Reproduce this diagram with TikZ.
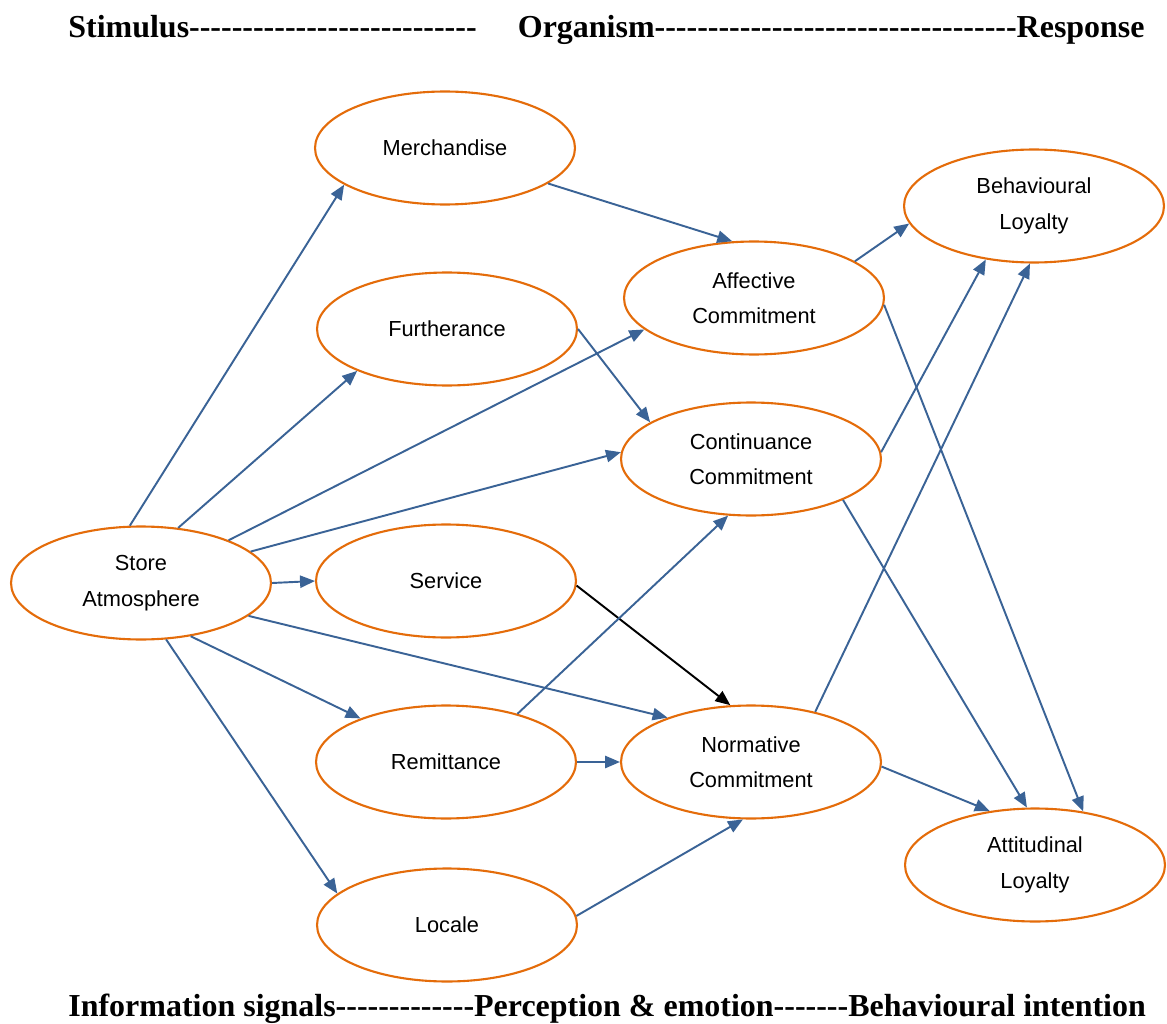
\documentclass[tikz,border=0pt]{standalone}
\usepackage{fontspec}
\newfontfamily\headfont{Liberation Serif}
\newfontfamily\labelfont{Liberation Sans}
\usetikzlibrary{shapes.geometric,arrows.meta}
\definecolor{ringorange}{RGB}{228,108,10}
\definecolor{linkblue}{RGB}{58,99,150}
% a run of separate hyphens (kept apart so no dash ligature forms)
\newcommand\dashrun[1]{\foreach\n in {1,...,#1}{-}}

\begin{document}
\begin{tikzpicture}[x=0.02cm,y=-0.02cm,
  construct/.style={ellipse, draw=ringorange, line width=1.2pt, fill=white,
    minimum width=5.2cm, minimum height=2.26cm, inner sep=0pt, align=center,
    font=\labelfont\fontsize{12.4}{20.2}\selectfont},
  link/.style={draw=linkblue, line width=1.1pt, -{Triangle[length=8.5pt,width=7pt]}},
  darklink/.style={link, draw=black},
  heading/.style={font=\headfont\bfseries\fontsize{18.2}{22}\selectfont, inner sep=0pt}]
\useasboundingbox (0,0) rectangle (1167,1024);

% stage headings
\node[heading, anchor=base west] (stim) at (68,38) {Stimulus\dashrun{27}};
\node[heading, anchor=base east] (orgresp) at (1145,38) {Organism\dashrun{34}Response};
\node[heading, anchor=base west] (stages) at (68,1016)
  {Information signals\dashrun{13}Perception \& emotion\dashrun{7}Behavioural intention};

% constructs
\node[construct] (store)  at (141,583)  {Store\\Atmosphere};
\node[construct] (merch)  at (445,148)  {Merchandise};
\node[construct] (furth)  at (447,329)  {Furtherance};
\node[construct] (serv)   at (446,581)  {Service};
\node[construct] (remit)  at (446,762)  {Remittance};
\node[construct] (locale) at (447,925)  {Locale};
\node[construct] (affect) at (754,298)  {Affective\\Commitment};
\node[construct] (contin) at (751,459)  {Continuance\\Commitment};
\node[construct] (norm)   at (751,762)  {Normative\\Commitment};
\node[construct] (behav)  at (1034,206) {Behavioural\\Loyalty};
\node[construct] (attit)  at (1035,865) {Attitudinal\\Loyalty};

% paths from the store atmosphere
\draw[link] (store.101) -- (merch.200);
\draw[link] (store.56)  -- (furth.205);
\draw[link] (store.26)  -- (affect.196);
\draw[link] (store.16)  -- (contin.177);
\draw[link] (store.0)   -- (serv.180);
\draw[link] (store.-17) -- (norm.152);
\draw[link] (store.-47) -- (remit.153);
\draw[link] (store.-66) -- (locale.164);

% stimulus dimensions to commitment
\draw[link] (merch.-19) -- (affect.111);
\draw[link] (furth.0)   -- (contin.160);
\draw[darklink] (serv.-2) -- (norm.110);
\draw[link] (remit.34)  -- (contin.248);
\draw[link] (remit.0)   -- (norm.180);
\draw[link] (locale.4)  -- (norm.262);

% commitment to loyalty
\draw[link] (affect.20) -- (behav.188);
\draw[link] (affect.-3) -- (attit.48);
\draw[link] (contin.3)  -- (behav.228);
\draw[link] (contin.-24) -- (attit.98);
\draw[link] (norm.38)   -- (behav.266);
\draw[link] (norm.-2)   -- (attit.130);
\end{tikzpicture}
\end{document}
